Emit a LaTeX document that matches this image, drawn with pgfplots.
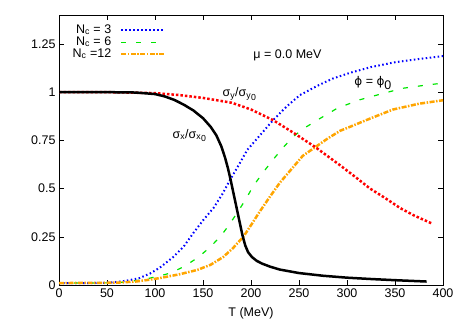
\documentclass[border=0pt]{standalone}
\usepackage{fontspec}
\setmainfont{Liberation Sans}
\newfontfamily\symfont{DejaVu Sans}
\usepackage{pgfplots}
\pgfplotsset{compat=1.18}
\definecolor{gpBlue}{RGB}{0,0,255}
\definecolor{gpGreen}{RGB}{0,230,0}
\definecolor{gpRed}{RGB}{255,0,0}
\definecolor{gpOrange}{RGB}{255,165,0}
\newcommand{\dsub}[1]{\textsubscript{#1\kern0.3pt\raisebox{-0.4ex}{0}}}
\newcommand{\phisym}{{\symfont\fontsize{12}{14}\selectfont ϕ}}

\begin{document}
\begin{tikzpicture}[font=\fontsize{12.5}{14}\selectfont]
\begin{axis}[
  scale only axis,
  width=384pt, height=270pt,
  xmin=0, xmax=400, ymin=0, ymax=1.4,
  xtick={0,50,...,400},
  ytick={0,0.25,0.5,0.75,1,1.25},
  yticklabels={0,0.25,0.5,0.75,1,1.25},
  tick align=inside,
  major tick length=5pt,
  tick style={black, line width=0.5pt},
  axis line style={line width=0.8pt},
  /pgf/number format/assume math mode=true,
  xlabel={T (MeV)},
  xlabel style={yshift=-3pt},
  legend plot pos=right,
  legend cell align=right,
  legend image code/.code={\path (0pt,0pt); \draw[#1] (9pt,0pt) -- (52pt,0pt);},
  legend style={at={(rel axis cs:0.035,0.965)}, anchor=north west,
    draw=none, fill=none, row sep=1pt, inner sep=0pt,
    nodes={inner sep=0pt, text height=8.5pt, text depth=2.5pt}},
]
\coordinate (sw) at (rel axis cs:0,0);
\coordinate (ne) at (rel axis cs:1,1);

% N_c = 3
\addplot[gpBlue, line width=2pt, dash pattern=on 1.5pt off 2.5pt] coordinates {
  (0,0.01) (30,0.01) (50,0.012) (60,0.016) (70,0.022) (84,0.036) (95,0.06)
  (105,0.09) (119,0.145) (130,0.2) (140,0.27) (150,0.335) (161,0.40)
  (170,0.47) (178,0.544) (187,0.62) (196,0.70) (210,0.78) (223,0.855)
  (237,0.925) (251,0.985) (270,1.035) (285,1.07) (303,1.10) (325,1.13)
  (350,1.155) (375,1.172) (400,1.187)
};
\addlegendentry{N\textsubscript{c} = 3}

% N_c = 6
\addplot[gpGreen, line width=1.2pt, dash pattern=on 5pt off 10pt] coordinates {
  (0,0.01) (50,0.011) (70,0.015) (84,0.026) (95,0.036) (105,0.047)
  (116,0.062) (130,0.095) (144,0.14) (156,0.19) (168,0.25) (177,0.31)
  (185,0.37) (194,0.44) (202,0.51) (212,0.58) (223,0.65) (233,0.71)
  (244,0.77) (256,0.815) (269,0.855) (290,0.917) (313,0.96) (335,0.99)
  (358,1.02) (380,1.035) (400,1.047)
};
\addlegendentry{N\textsubscript{c} = 6}

% N_c = 12
\addplot[gpOrange, line width=2.5pt, dash pattern=on 5pt off 1.5pt on 1.5pt off 1.5pt] coordinates {
  (0,0.01) (60,0.012) (80,0.018) (95,0.028) (105,0.036) (125,0.055)
  (144,0.078) (158,0.105) (171,0.145) (181,0.19) (192,0.25) (200,0.31)
  (209,0.38) (220,0.46) (230,0.53) (242,0.60) (254,0.67) (267,0.715)
  (280,0.76) (293,0.80) (303,0.82) (325,0.865) (348,0.91) (375,0.94)
  (400,0.958)
};
\addlegendentry{N\textsubscript{c} =12}

% sigma_y / sigma_y0
\addplot[gpRed, line width=2.5pt, dash pattern=on 2.5pt off 2pt, forget plot] coordinates {
  (0,1) (50,1) (100,0.995) (125,0.985) (150,0.97) (180,0.945) (200,0.91)
  (223,0.855) (244,0.79) (267,0.715) (293,0.62) (310,0.555) (324,0.50)
  (340,0.45) (355,0.40) (370,0.36) (388,0.32)
};

% sigma_x / sigma_x0
\addplot[black, line width=2.5pt, forget plot] coordinates {
  (0,1) (50,1) (80,0.998) (100,0.99) (110,0.978) (120,0.96) (130,0.935)
  (140,0.905) (150,0.865) (158,0.82) (164,0.775) (169,0.72) (173,0.66)
  (176,0.605) (179,0.54) (182,0.47) (185,0.40) (188,0.33) (191,0.26)
  (194,0.205) (197,0.17) (201,0.145) (206,0.125) (212,0.11) (220,0.095)
  (230,0.08) (250,0.062) (275,0.048) (300,0.038) (325,0.031) (350,0.025)
  (383,0.018)
};

\node at (axis cs:238,1.19) {μ = 0.0 MeV};
\node at (axis cs:188,0.99) {σ\textsubscript{y}/σ\dsub{y}};
\node at (axis cs:327,1.045) {\phisym{} = \phisym\raisebox{-0.6ex}{0}};
\node at (axis cs:136,0.775) {σ\textsubscript{x}/σ\dsub{x}};
\end{axis}
\pgfresetboundingbox
\path[use as bounding box] ([shift={(-59pt,-42pt)}]sw) rectangle ([shift={(24pt,15pt)}]ne);
\end{tikzpicture}
\end{document}
